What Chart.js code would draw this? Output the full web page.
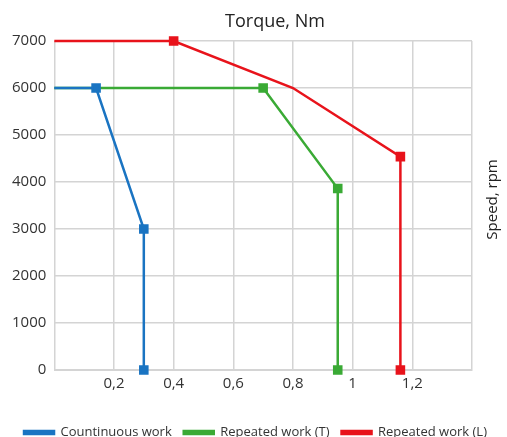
<!DOCTYPE html>
<html>
<head>
<meta charset="utf-8">
<script src="https://cdn.jsdelivr.net/npm/chart.js@4.4.0/dist/chart.umd.min.js"></script>
<style>
  body { margin: 0; background: #fff; }
  #wrap { width: 507px; height: 437px; }
</style>
</head>
<body>
<div id="wrap"><canvas id="torqueCanvas"></canvas></div>
<script>
const seriesNames = ["Countinuous work", "Repeated work (T)", "Repeated work (L)"]

const contTorque = [0, 0.14, 0.3, 0.3]
const contSpeed = [6000, 6000, 3000, 0]
const contMarks = [0, 5, 5, 5]

const repTTorque = [0, 0.7, 0.95, 0.95]
const repTSpeed = [6000, 6000, 3860, 0]
const repTMarks = [0, 5, 5, 5]

const repLTorque = [0, 0.4, 0.8, 1.16, 1.16]
const repLSpeed = [7000, 7000, 6000, 4540, 0]
const repLMarks = [0, 5, 0, 5, 5]

const colors = ["#1a74c2", "#3aaa35", "#e8131b"]

function toPoints(xs, ys) {
    return xs.map((x, i) => ({ x: x, y: ys[i] }))
}

function makeSet(i, xs, ys, marks) {
    return {
        label: seriesNames[i],
        data: toPoints(xs, ys),
        borderColor: colors[i],
        backgroundColor: colors[i],
        borderWidth: 2.5,
        pointStyle: "rect",
        pointRadius: marks,
        pointHoverRadius: marks,
        tension: 0,
        clip: false
    }
}

// title on top + rotated axis name on the right
const labelsPlugin = {
    id: "labels",
    afterDraw(chart) {
        const ctx = chart.ctx
        const area = chart.chartArea
        ctx.save()
        ctx.fillStyle = "#222"
        ctx.textAlign = "center"
        ctx.textBaseline = "middle"
        ctx.font = "18px 'Open Sans'"
        ctx.fillText("Torque, Nm", 275, 22)
        ctx.font = "15px 'Open Sans'"
        ctx.translate(493, (area.top + area.bottom) / 2 - 6)
        ctx.rotate(-Math.PI / 2)
        ctx.fillText("Speed, rpm", 0, 0)
        ctx.restore()
    }
}

const torqueChart = new Chart(document.getElementById("torqueCanvas"), {
    type: "line",
    data: {
        datasets: [
            makeSet(0, contTorque, contSpeed, contMarks),
            makeSet(1, repTTorque, repTSpeed, repTMarks),
            makeSet(2, repLTorque, repLSpeed, repLMarks)
        ]
    },
    options: {
        responsive: true,
        maintainAspectRatio: false,
        animation: false,
        layout: { padding: { top: 41, right: 0, left: 4, bottom: -12 } },
        scales: {
            x: {
                type: "linear",
                min: 0,
                max: 1.4,
                grid: { color: "#d4d4d4", lineWidth: 1.5, drawTicks: false },
                border: { color: "#d4d4d4" },
                ticks: {
                    stepSize: 0.2,
                    padding: 5,
                    color: "#333",
                    font: { size: 15, family: "'Open Sans'" },
                    callback: function (v) {
                        if (v === 0 || Math.abs(v - 1.4) < 1e-6) return ""
                        return String(Math.round(v * 10) / 10).replace(".", ",")
                    }
                },
                afterFit: function (scale) { scale.height += 16 }
            },
            y: {
                min: 0,
                max: 7000,
                grid: { color: "#d4d4d4", lineWidth: 1.5, drawTicks: false },
                border: { color: "#d4d4d4" },
                ticks: {
                    stepSize: 1000,
                    padding: 8,
                    color: "#333",
                    font: { size: 15, family: "'Open Sans'" },
                    callback: v => String(v)
                }
            },
            // empty right axis only reserves room for the rotated name
            yRight: {
                position: "right",
                min: 0,
                max: 7000,
                grid: { display: false },
                border: { display: false },
                ticks: { display: false },
                afterFit: function (scale) { scale.width = 35 }
            }
        },
        plugins: {
            legend: {
                position: "bottom",
                labels: {
                    boxWidth: 30,
                    boxHeight: 3,
                    padding: 12,
                    color: "#333",
                    font: { size: 13, family: "'Open Sans'" }
                }
            },
            tooltip: { enabled: false }
        }
    },
    plugins: [labelsPlugin]
})
</script>
</body>
</html>
